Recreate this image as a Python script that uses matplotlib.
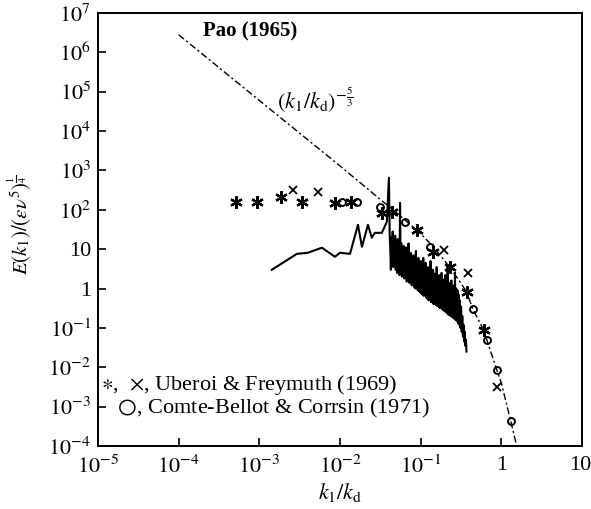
import numpy as np
import matplotlib
matplotlib.use("Agg")
import matplotlib.pyplot as plt
from matplotlib.transforms import ScaledTranslation

plt.rcParams['font.family'] = ['Liberation Serif', 'DejaVu Serif']
plt.rcParams['mathtext.fontset'] = 'stix'

# Pao (1965) model spectrum
pao_k = [1e-4, 1e-3, 1e-2, 0.03, 0.05, 0.1, 0.14, 0.2, 0.3, 0.374, 0.44, 0.6, 0.66, 0.88, 1.0, 1.31, 1.55]
pao_E = [2.8e6, 6.0e4, 1.3e3, 200, 85, 25, 12, 5.0, 1.6, 0.8, 0.31, 0.09, 0.05, 0.0085, 0.004, 4.2e-4, 1e-4]

# Uberoi & Freymuth (1969), asterisks
star_k = [5.1e-4, 9.3e-4, 1.85e-3, 3.37e-3, 8.65e-3, 0.0136, 0.033, 0.044, 0.0897, 0.141, 0.23, 0.374, 0.607]
star_E = [160, 160, 214, 160, 145, 160, 84, 89, 31, 8.6, 3.6, 0.83, 0.089]

# Uberoi & Freymuth (1969), crosses
cross_k = [2.6e-3, 5.3e-3, 0.194, 0.385, 0.88]
cross_E = [322, 286, 9.7, 2.5, 3.2e-3]

# Comte-Bellot & Corrsin (1971), circles
circ_k = [0.0105, 0.0162, 0.0312, 0.0637, 0.130, 0.44, 0.661, 0.88, 1.31]
circ_E = [160, 160, 119, 50, 11.5, 0.31, 0.05, 0.0087, 4.2e-4]

# measured spectrum (solid trace): smooth low-wavenumber part
trace_lo_k = [1.43e-3, 2.92e-3, 3.99e-3, 5.97e-3, 8.65e-3, 0.0100, 0.0133, 0.0167, 0.0187, 0.0222,
              0.0248, 0.0270, 0.0330, 0.0381, 0.0404, 0.0413]
trace_lo_E = [3.0, 7.6, 8.1, 10.9, 6.4, 8.1, 7.6, 41.6, 11.5, 41.6,
              19.5, 26, 26, 49.6, 650, 23]

# noisy high-wavenumber part
trace_hi_k = [0.0420, 0.0427, 0.0435, 0.0442, 0.0450, 0.0458, 0.0466, 0.0474, 0.0483, 0.0491,
              0.0500, 0.0509, 0.0518, 0.0527, 0.0536, 0.0546, 0.0555, 0.0565, 0.0575, 0.0585,
              0.0595, 0.0606, 0.0616, 0.0627, 0.0638, 0.0649, 0.0661, 0.0672, 0.0684, 0.0696,
              0.0708, 0.0721, 0.0733, 0.0746, 0.0759, 0.0773, 0.0786, 0.0800, 0.0814, 0.0828,
              0.0843, 0.0858, 0.0873, 0.0888, 0.0904, 0.0920, 0.0936, 0.0952, 0.0969, 0.0986,
              0.1003, 0.1021, 0.1039, 0.1057, 0.1076, 0.1095, 0.1114, 0.1134, 0.1154, 0.1174,
              0.1195, 0.1216, 0.1237, 0.1259, 0.1281, 0.1303, 0.1326, 0.1350, 0.1373, 0.1397,
              0.1422, 0.1447, 0.1472, 0.1498, 0.1525, 0.1551, 0.1579, 0.1606, 0.1635, 0.1663,
              0.1692, 0.1722, 0.1752, 0.1783, 0.1815, 0.1846, 0.1879, 0.1912, 0.1945, 0.1980,
              0.2014, 0.2050, 0.2086, 0.2122, 0.2160, 0.2198, 0.2236, 0.2276, 0.2316, 0.2356,
              0.2398, 0.2440, 0.2483, 0.2526, 0.2571, 0.2616, 0.2662, 0.2709, 0.2756, 0.2805,
              0.2854, 0.2904, 0.2955, 0.3007, 0.3060, 0.3114, 0.3169, 0.3224, 0.3281, 0.3339,
              0.3397, 0.3457, 0.3518, 0.3580, 0.3643, 0.3700]
trace_hi_E = [10, 3, 20, 4, 28, 3.5, 15, 5, 22, 3,
              12, 2.5, 18, 4, 10, 2.2, 150, 3, 14, 2,
              9, 2.4, 12, 1.8, 8, 2, 11, 1.5, 7, 1.7,
              14, 1.4, 6, 1.6, 8, 1.2, 5.5, 1.3, 7, 1.1,
              5, 1.0, 9, 1.1, 4.5, 0.9, 6, 0.85, 4, 0.8,
              5, 0.75, 3.5, 0.7, 6, 0.65, 3.2, 0.7, 4.5, 0.6,
              3, 0.55, 3.5, 0.5, 2.8, 0.55, 5, 0.45, 2.6, 0.45,
              3, 0.4, 2.4, 0.42, 2.2, 0.38, 3.5, 0.36, 2, 0.35,
              2.2, 0.32, 1.8, 0.33, 2.5, 0.3, 1.7, 0.28, 1.6, 0.27,
              2.2, 0.25, 1.5, 0.24, 4, 0.22, 1.4, 0.21, 1.3, 0.2,
              1.6, 0.19, 1.2, 0.18, 1.1, 0.17, 2.5, 0.16, 1.0, 0.15,
              0.9, 0.13, 0.7, 0.12, 0.5, 0.1, 0.35, 0.08, 0.2, 0.06,
              0.12, 0.045, 0.08, 0.035, 0.05, 0.025]

xticks = [1e-5, 1e-4, 1e-3, 1e-2, 1e-1, 1, 10]
xlabels = ['$10^{-5}$', '$10^{-4}$', '$10^{-3}$', '$10^{-2}$', '$10^{-1}$', '1', '10']
yticks = [1e7, 1e6, 1e5, 1e4, 1e3, 1e2, 10, 1, 1e-1, 1e-2, 1e-3, 1e-4]
ylabels = ['$10^{7}$', '$10^{6}$', '$10^{5}$', '$10^{4}$', '$10^{3}$', '$10^{2}$', '10', '1',
           '$10^{-1}$', '$10^{-2}$', '$10^{-3}$', '$10^{-4}$']

fig = plt.figure(figsize=(5.91, 5.09), dpi=100)
ax = fig.add_axes([0.1658, 0.1238, 0.8190, 0.8507])

ax.plot(pao_k, pao_E, color='black', lw=1.0, linestyle=(0, (5, 2, 1.5, 2)))
ax.plot(trace_lo_k + trace_hi_k, trace_lo_E + trace_hi_E, color='black', lw=1.5)
ax.plot(star_k, star_E, linestyle='none', marker=(6, 2, 0), ms=9, mew=1.6, color='black')
ax.plot(cross_k, cross_E, linestyle='none', marker='x', ms=5.5, mew=1.3, color='black')
ax.plot(circ_k, circ_E, linestyle='none', marker='o', ms=5, mew=1.4,
        mfc='none', mec='black')

ax.set_xscale('log')
ax.set_yscale('log')
ax.set_xlim(1e-5, 10)
ax.set_ylim(1e-4, 1e7)
ax.set_xticks(xticks)
ax.set_xticklabels(xlabels)
ax.set_yticks(yticks)
ax.set_yticklabels(ylabels)
ax.minorticks_off()
ax.tick_params(direction='in', length=6, width=1.2, labelsize=16, top=False, right=False)
ax.tick_params(axis='x', pad=7)
ax.tick_params(axis='y', pad=5)
for s in ax.spines.values():
    s.set_linewidth(1.4)

# keep the last x label inside the figure
last = ax.get_xticklabels()[-1]
last.set_horizontalalignment('right')
last.set_transform(last.get_transform() + ScaledTranslation(7 / 72, 0, fig.dpi_scale_trans))

ax.set_xlabel(r'$k_1/k_\mathrm{d}$', fontsize=16, labelpad=2)
ax.set_ylabel(r'$E(k_1)/(\epsilon\nu^5)^{\frac{1}{4}}$', fontsize=15)
ax.yaxis.set_label_coords(-0.135, 0.51)

ax.text(2e-4, 3.3e6, 'Pao (1965)', fontsize=15, fontweight='bold', va='center')
ax.text(1.65e-3, 6.2e4, r'$(k_1/k_\mathrm{d})^{-\frac{5}{3}}$',
        fontsize=16, va='center')
ax.text(1.1e-5, 3.6e-3, r'$\ast$,  $\times$, Uberoi & Freymuth (1969)', fontsize=16, va='center')
ax.text(1.1e-5, 9.0e-4, r'   $\bigcirc$, Comte-Bellot & Corrsin (1971)', fontsize=16, va='center')

fig.savefig('out.png', dpi=100)
